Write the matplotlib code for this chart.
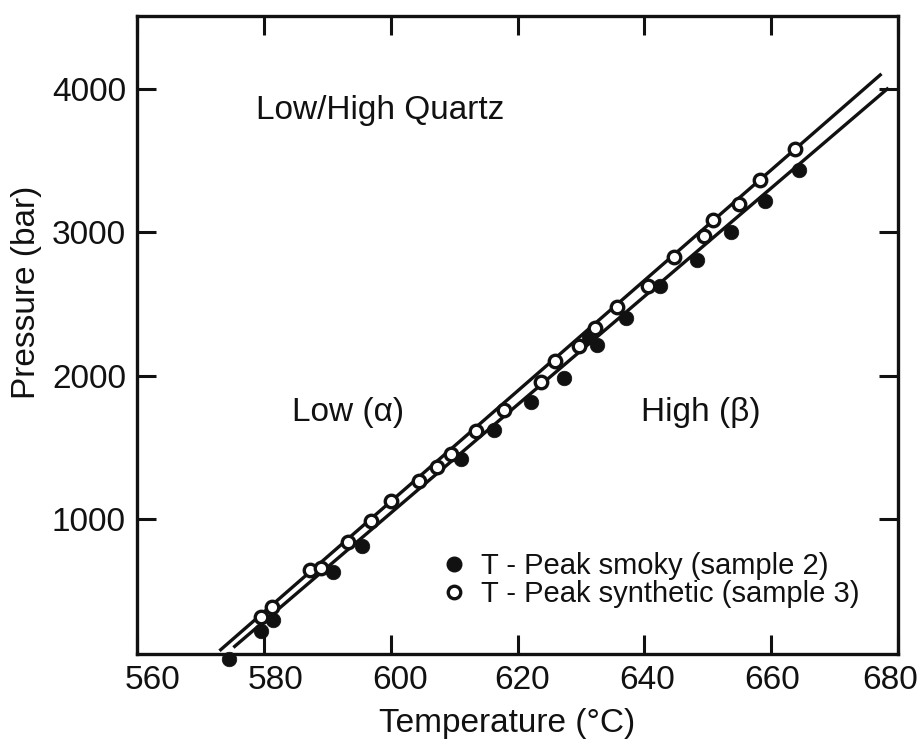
import numpy as np
from matplotlib import pyplot as plt
from matplotlib import transforms
from matplotlib.lines import Line2D

# T - peak smoky quartz (sample 2), filled circles
smoky_t = [574.5, 579.6, 581.5, 590.9, 595.5, 611.1, 616.3, 622.1, 627.4, 631.3,
           632.6, 637.1, 642.4, 648.3, 653.6, 659.0, 664.4]
smoky_p = [25, 218, 294, 629, 810, 1420, 1623, 1820, 1983, 2270,
           2217, 2403, 2630, 2808, 3003, 3222, 3438]

# T - peak synthetic quartz (sample 3), open circles
synth_t = [579.6, 581.3, 587.3, 589.0, 593.2, 596.9, 600.0, 604.5, 607.3, 609.5,
           613.4, 617.9, 623.7, 625.9, 629.7, 632.2, 635.7, 640.5, 644.7, 649.4,
           650.8, 654.9, 658.3, 663.7]
synth_p = [318, 388, 648, 660, 838, 985, 1124, 1264, 1362, 1457,
           1617, 1764, 1954, 2105, 2205, 2336, 2478, 2630, 2828, 2977,
           3089, 3200, 3366, 3582]

# fitted lines (end points)
synth_line_t = [573.2, 677.2]
synth_line_p = [90, 4099]
smoky_line_t = [575.4, 678.3]
smoky_line_p = [113, 4001]

x_ticks = [560, 580, 600, 620, 640, 660, 680]
y_ticks = [1000, 2000, 3000, 4000]

INK = "#111111"


def main():
    plt.rcParams['font.family'] = ['Liberation Sans', 'DejaVu Sans']
    fig = plt.figure(figsize=(9.21, 7.43), dpi=100)
    ax = fig.add_axes([137 / 921, 1 - 654 / 743, 761 / 921, 638 / 743])

    ax.plot(synth_line_t, synth_line_p, color=INK, lw=2.4, zorder=2)
    ax.plot(smoky_line_t, smoky_line_p, color=INK, lw=2.4, zorder=2)
    ax.plot(smoky_t, smoky_p, "o", ms=10.5, mfc=INK, mec=INK,
            mew=0.5, zorder=3, clip_on=False)
    ax.plot(synth_t, synth_p, "o", ms=9.0, mfc="white", mec=INK,
            mew=2.4, zorder=4, clip_on=False)

    ax.set_xlim(560, 680)
    ax.set_ylim(60, 4510)
    ax.set_xticks(x_ticks)
    ax.set_yticks(y_ticks)
    ax.tick_params(direction="in", length=14, width=2.2, labelsize=24,
                   top=True, right=True, pad=8, colors=INK)
    for s in ax.spines.values():
        s.set_linewidth(2.4)
        s.set_color(INK)

    # tick labels in the original sit slightly squeezed toward the centre
    shifts = [16, 12, 9, 5, 3, 1, -8]
    for lab, dx in zip(ax.get_xticklabels(), shifts):
        lab.set_transform(lab.get_transform() +
                          transforms.ScaledTranslation(dx / 100, 0, fig.dpi_scale_trans))

    ax.set_xlabel("Temperature (°C)", fontsize=24, color=INK)
    ax.set_ylabel("Pressure (bar)", fontsize=24, color=INK)
    ax.xaxis.set_label_coords(0.486, -0.085)
    ax.yaxis.set_label_coords(-0.125, 0.567)

    fig.text(256 / 921, 1 - 111 / 743, "Low/High Quartz", fontsize=24,
             va="center", color=INK)
    ax.text(0.277, 0.379, "Low (α)", transform=ax.transAxes, fontsize=24,
            ha="center", va="center", color=INK)
    ax.text(0.741, 0.379, "High (β)", transform=ax.transAxes, fontsize=24,
            ha="center", va="center", color=INK)

    handles = [
        Line2D([], [], ls="none", marker="o", ms=10.5, mfc=INK, mec=INK),
        Line2D([], [], ls="none", marker="o", ms=9.0, mfc="white", mec=INK, mew=2.4),
    ]
    ax.legend(handles, ["T - Peak smoky (sample 2)", "T - Peak synthetic (sample 3)"],
              loc="upper left", bbox_to_anchor=(0.401, 0.160), frameon=False,
              fontsize=21, handlelength=0.8, handletextpad=0.52,
              labelspacing=0.0, borderpad=0, borderaxespad=0, labelcolor=INK)

    fig.savefig("out.png", dpi=100)


if __name__ == "__main__":
    main()
